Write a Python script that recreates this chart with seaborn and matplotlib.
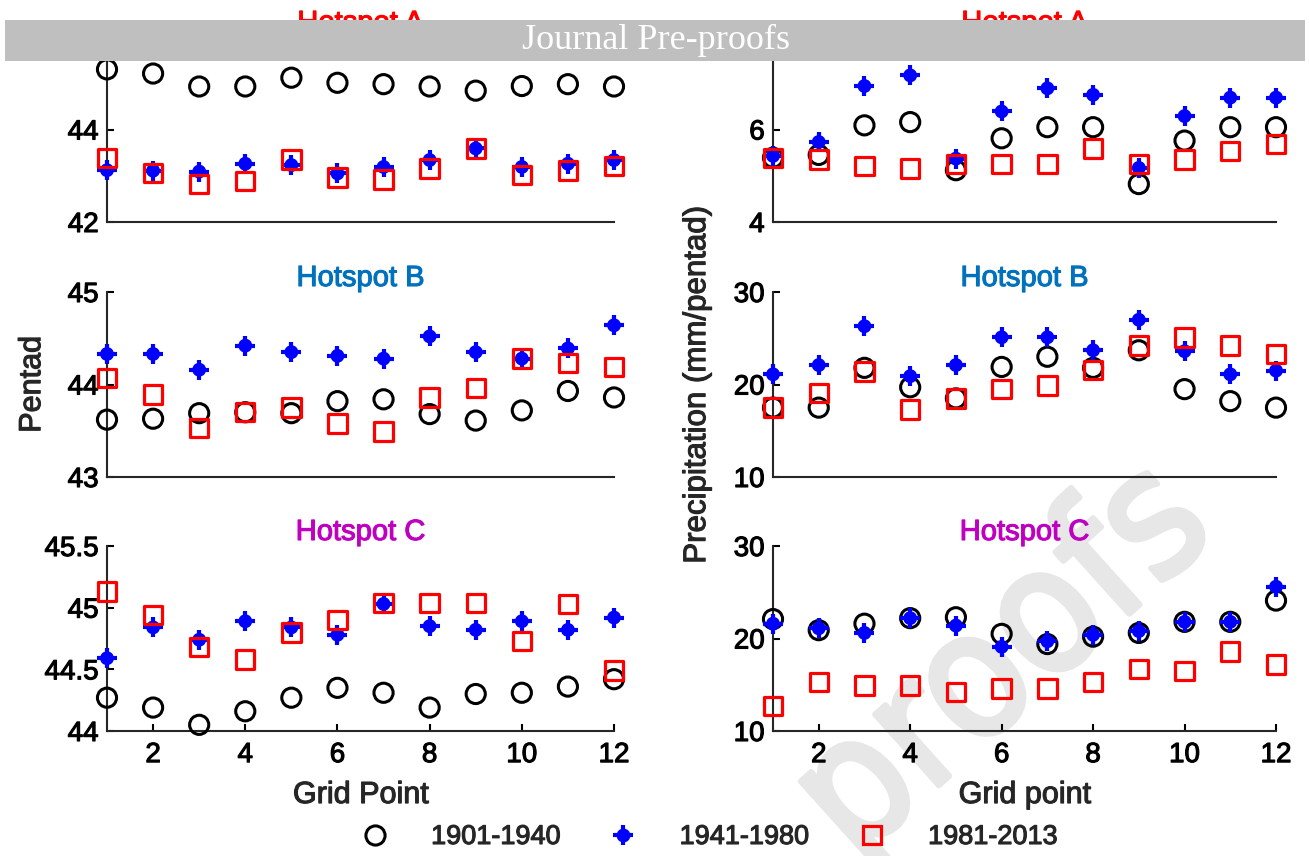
import numpy as np
import pandas as pd
import matplotlib
matplotlib.use("Agg")
import matplotlib.pyplot as plt
import seaborn as sns
from matplotlib.lines import Line2D
from matplotlib.patches import Rectangle
from matplotlib.legend_handler import HandlerTuple
from matplotlib.ticker import FuncFormatter
from matplotlib import patheffects as pe
from matplotlib.text import Text

# ---------------- data ----------------
grid_points = list(range(1, 13))
periods = ["1901-1940", "1941-1980", "1981-2013"]
hotspots = ["Hotspot A", "Hotspot B", "Hotspot C"]
title_colors = ["#FF0000", "#0072BD", "#C000C0"]

# Onset pentad
pentad_A_1901 = [45.30, 45.21, 44.93, 44.93, 45.12, 45.01, 44.98, 44.93, 44.84, 44.94, 44.98, 44.93]
pentad_A_1941 = [43.12, 43.11, 43.09, 43.26, 43.23, 43.05, 43.19, 43.34, 43.59, 43.19, 43.26, 43.34]
pentad_A_1981 = [43.39, 43.06, 42.82, 42.89, 43.35, 42.96, 42.92, 43.16, 43.59, 43.01, 43.11, 43.21]

pentad_B_1901 = [43.62, 43.63, 43.69, 43.70, 43.69, 43.82, 43.84, 43.68, 43.61, 43.72, 43.93, 43.86]
pentad_B_1941 = [44.33, 44.33, 44.16, 44.42, 44.35, 44.31, 44.28, 44.52, 44.35, 44.28, 44.39, 44.64]
pentad_B_1981 = [44.07, 43.89, 43.53, 43.70, 43.75, 43.58, 43.49, 43.86, 43.96, 44.28, 44.23, 44.19]

pentad_C_1901 = [44.27, 44.19, 44.05, 44.16, 44.27, 44.35, 44.31, 44.19, 44.30, 44.31, 44.36, 44.42]
pentad_C_1941 = [44.59, 44.84, 44.74, 44.89, 44.84, 44.78, 45.03, 44.85, 44.82, 44.89, 44.82, 44.92]
pentad_C_1981 = [45.13, 44.94, 44.68, 44.58, 44.80, 44.90, 45.04, 45.04, 45.04, 44.73, 45.03, 44.49]

# Precipitation (mm/pentad)
precip_A_1901 = [5.39, 5.45, 6.09, 6.16, 5.12, 5.81, 6.05, 6.05, 4.82, 5.76, 6.05, 6.05]
precip_A_1941 = [5.43, 5.73, 6.94, 7.17, 5.37, 6.39, 6.89, 6.75, 5.17, 6.29, 6.69, 6.69]
precip_A_1981 = [5.39, 5.35, 5.21, 5.16, 5.25, 5.25, 5.25, 5.59, 5.25, 5.35, 5.54, 5.68]

precip_B_1901 = [17.5, 17.5, 21.8, 19.7, 18.5, 21.9, 23.0, 21.8, 23.7, 19.5, 18.2, 17.5]
precip_B_1941 = [21.1, 22.1, 26.3, 20.9, 22.1, 25.1, 25.1, 23.7, 27.0, 23.6, 21.1, 21.5]
precip_B_1981 = [17.5, 19.1, 21.4, 17.3, 18.5, 19.5, 19.9, 21.6, 24.2, 25.1, 24.2, 23.3]

precip_C_1901 = [22.1, 20.9, 21.6, 22.2, 22.3, 20.5, 19.4, 20.2, 20.6, 21.8, 21.8, 24.1]
precip_C_1941 = [21.6, 21.1, 20.6, 22.2, 21.4, 19.1, 19.7, 20.4, 20.8, 21.8, 21.8, 25.6]
precip_C_1981 = [12.7, 15.3, 14.9, 14.9, 14.2, 14.6, 14.6, 15.3, 16.7, 16.5, 18.6, 17.2]

pentad_yticks = [[42, 44, 46], [43, 44, 45], [44, 44.5, 45, 45.5]]
precip_yticks = [[4, 6, 8], [10, 20, 30], [10, 20, 30]]
x_ticks = [2, 4, 6, 8, 10, 12]

# ---------------- style ----------------
sns.set_style("ticks")
plt.rcParams["font.family"] = ["Liberation Sans", "DejaVu Sans"]
plt.rcParams["axes.linewidth"] = 1.5

W, H = 1309, 856
fig = plt.figure(figsize=(W / 100, H / 100), dpi=100)
fig.patch.set_facecolor("white")

left_cols = [(107, 507), (773, 503)]
row_tops = [37, 292, 546]
row_h = 185

pentad_data = [
    (pentad_A_1901, pentad_A_1941, pentad_A_1981),
    (pentad_B_1901, pentad_B_1941, pentad_B_1981),
    (pentad_C_1901, pentad_C_1941, pentad_C_1981),
]
precip_data = [
    (precip_A_1901, precip_A_1941, precip_A_1981),
    (precip_B_1901, precip_B_1941, precip_B_1981),
    (precip_C_1901, precip_C_1941, precip_C_1981),
]

fmt = FuncFormatter(lambda v, p: f"{v:g}")


def draw_panel(ax, series, yticks, title, tcolor, bottom_row):
    s1901, s1941, s1981 = series
    df = pd.DataFrame({"grid": grid_points, "p1": s1901, "p2": s1941, "p3": s1981})
    sns.scatterplot(data=df, x="grid", y="p1", ax=ax, marker="o", s=190,
                    facecolor="none", edgecolor="black", linewidth=2.2,
                    clip_on=False, zorder=3, legend=False)
    sns.scatterplot(data=df, x="grid", y="p2", ax=ax, marker="o", s=100,
                    color="#0000FF", edgecolor="none", linewidth=0,
                    clip_on=False, zorder=4, legend=False)
    sns.scatterplot(data=df, x="grid", y="p2", ax=ax, marker="+", s=190,
                    color="#0000FF", linewidth=3.0,
                    clip_on=False, zorder=4, legend=False)
    sns.scatterplot(data=df, x="grid", y="p3", ax=ax, marker="s", s=175,
                    facecolor="none", edgecolor="#FF0000", linewidth=2.3,
                    clip_on=False, zorder=5, legend=False)
    ax.set_xlim(1, 12)
    ax.set_ylim(yticks[0], yticks[-1])
    ax.set_yticks(yticks)
    ax.yaxis.set_major_formatter(fmt)
    ax.set_facecolor("none")
    for sp in ["top", "right"]:
        ax.spines[sp].set_visible(False)
    ax.tick_params(axis="both", direction="in", length=5, width=1.5,
                   labelsize=20, colors="black")
    ax.tick_params(axis="y", pad=6)
    if bottom_row:
        ax.set_xticks(x_ticks)
        ax.tick_params(axis="x", pad=8)
    else:
        ax.set_xticks([])
    ax.set_xlabel("")
    ax.set_ylabel("")
    ax.set_title(title, color=tcolor, fontsize=21, pad=4)


axes = {}
for r in range(3):
    for c, (lx, wx) in enumerate(left_cols):
        b = (H - row_tops[r] - row_h) / H
        ax = fig.add_axes([lx / W, b, wx / W, row_h / H])
        data = pentad_data[r] if c == 0 else precip_data[r]
        yt = pentad_yticks[r] if c == 0 else precip_yticks[r]
        draw_panel(ax, data, yt, hotspots[r], title_colors[r], r == 2)
        axes[(r, c)] = ax

axes[(1, 0)].set_ylabel("Pentad", fontsize=22)
axes[(1, 0)].yaxis.set_label_coords(-0.118, 0.5)
axes[(1, 1)].set_ylabel("Precipitation (mm/pentad)", fontsize=22.5)
axes[(1, 1)].yaxis.set_label_coords(-0.121, 0.5)
axes[(2, 0)].set_xlabel("Grid Point", fontsize=22)
axes[(2, 0)].xaxis.set_label_coords(0.5, -0.265)
axes[(2, 1)].set_xlabel("Grid point", fontsize=22)
axes[(2, 1)].xaxis.set_label_coords(0.5, -0.265)

# legend
h1 = Line2D([], [], ls="none", marker="o", ms=13.8, mfc="none", mec="black", mew=2.2)
h2a = Line2D([], [], ls="none", marker="o", ms=10, mfc="#0000FF", mec="none")
h2b = Line2D([], [], ls="none", marker="+", ms=13.8, mec="#0000FF", mew=3.0)
h3 = Line2D([], [], ls="none", marker="s", ms=13.2, mfc="none", mec="#FF0000", mew=2.3)
fig.legend([h1, (h2a, h2b), h3], periods, loc="center",
           bbox_to_anchor=(703 / W, 1 - 837 / H), ncol=3, frameon=False,
           fontsize=19.5, handlelength=2.0, handletextpad=1.08,
           columnspacing=1.3, handler_map={tuple: HandlerTuple(ndivide=1)})

# thicken the text strokes a little (heavy look of the reference)
fig.canvas.draw()
for t in fig.findobj(Text):
    if t.get_text():
        t.set_path_effects([pe.withStroke(linewidth=0.8, foreground=t.get_color())])

# watermark (narrow face)
wm = fig.text(854 / W, 1 - 862 / H, "proofs", fontsize=126, color="#E7E7E7",
              family=["Liberation Sans Narrow", "DejaVu Sans"], fontstretch="condensed",
              rotation=42, rotation_mode="anchor",
              ha="left", va="baseline", zorder=-5)
wm.set_path_effects([pe.withStroke(linewidth=4, foreground="#E7E7E7")])

# banner
fig.add_artist(Rectangle((5 / W, 1 - 61 / H), 1300 / W, 41 / H,
                         transform=fig.transFigure, facecolor="#BFBFBF",
                         edgecolor="none", zorder=10))
fig.text(656 / W, 1 - 40 / H, "Journal Pre-proofs", fontsize=26, color="white",
         family=["Liberation Serif", "DejaVu Serif"], ha="center", va="center",
         zorder=11)

fig.savefig("out.png", dpi=100, facecolor="white")
